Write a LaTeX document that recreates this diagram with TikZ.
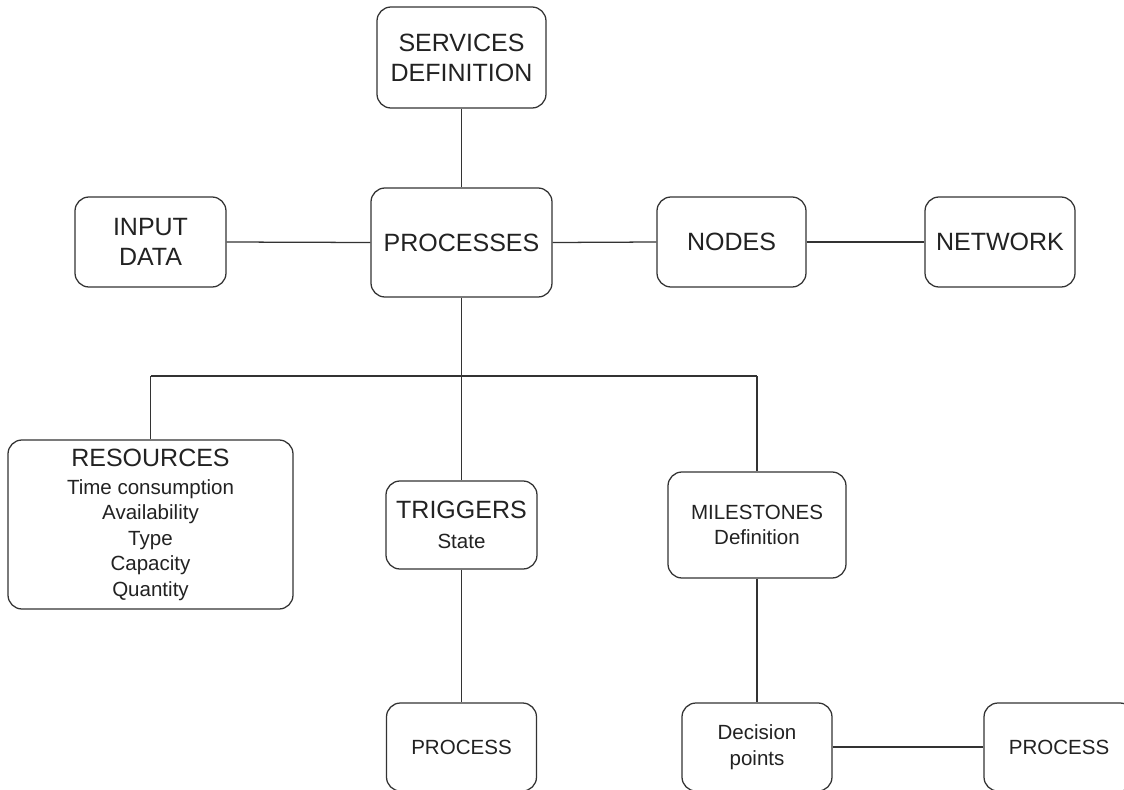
\documentclass[tikz,border=0pt]{standalone}
\usepackage{fontspec}
\setmainfont{Liberation Sans}
\newcommand\bigf{\fontsize{18.75pt}{22.5pt}\selectfont}
\newcommand\smallf{\fontsize{15.4pt}{19.1pt}\selectfont}
\definecolor{ink}{HTML}{222222}
\definecolor{edge}{HTML}{333333}
\tikzset{
  box/.style={draw=edge, line width=0.95pt, rounded corners=10.5pt, fill=white,
    align=center, inner sep=0pt, text=ink, font=\bigf},
  link/.style={draw=edge, line width=0.95pt}
}
\begin{document}
\begin{tikzpicture}[x=0.75pt,y=-0.75pt]
\useasboundingbox (0,0) rectangle (1124,789);
\clip (0,0) rectangle (1124,789);
\fill[white] (0,0) rectangle (1124,789);
% nodes
\node[box, minimum width=126.75pt, minimum height=75.75pt] (serv) at (461.5,57.5) {SERVICES\\DEFINITION};
\node[box, minimum width=135.75pt, minimum height=81.75pt] (proc) at (461.5,242.5) {PROCESSES};
\node[box, minimum width=113.25pt, minimum height=67.5pt] (inp) at (150.5,242) {INPUT\\DATA};
\node[box, minimum width=111.75pt, minimum height=67.5pt] (nodes) at (731.5,242) {NODES};
\node[box, minimum width=112.5pt, minimum height=67.5pt] (net) at (1000,242) {NETWORK};
\node[box, font=\smallf, minimum width=213.75pt, minimum height=126.75pt] (res) at (150.5,524.5)
  {{\bigf RESOURCES}\\[2pt]Time consumption\\Availability\\Type\\Capacity\\Quantity};
\node[box, minimum width=113.25pt, minimum height=66pt] (trig) at (461.5,525) {TRIGGERS\\{\smallf State}};
\node[box, font=\smallf, minimum width=133.5pt, minimum height=79.5pt] (mile) at (757,525) {MILESTONES\\Definition};
\node[box, font=\smallf, minimum width=112.5pt, minimum height=66pt] (proc2) at (461.5,747) {PROCESS};
\node[box, font=\smallf, minimum width=112.5pt, minimum height=66pt] (dec) at (757,747) {Decision\\points};
\node[box, font=\smallf, minimum width=112.5pt, minimum height=66pt] (proc3) at (1059,747) {PROCESS};
% junction coordinates
\coordinate (hub) at (461.5,376);
\coordinate (hl) at (150.5,376);
\coordinate (hr) at (757,376);
% connectors
\draw[link] (serv.south) -- (proc.north);
\draw[link] (inp.east) -- (proc.west);
\draw[link] (proc.east) -- (nodes.west);
\draw[link] (nodes.east) -- (net.west);
\draw[link] (proc.south) -- (hub);
\draw[link] (hl) -- (hr);
\draw[link] (hl) -- (res.north);
\draw[link] (hub) -- (trig.north);
\draw[link] (hr) -- (mile.north);
\draw[link] (trig.south) -- (proc2.north);
\draw[link] (mile.south) -- (dec.north);
\draw[link] (dec.east) -- (proc3.west);
\end{tikzpicture}
\end{document}
